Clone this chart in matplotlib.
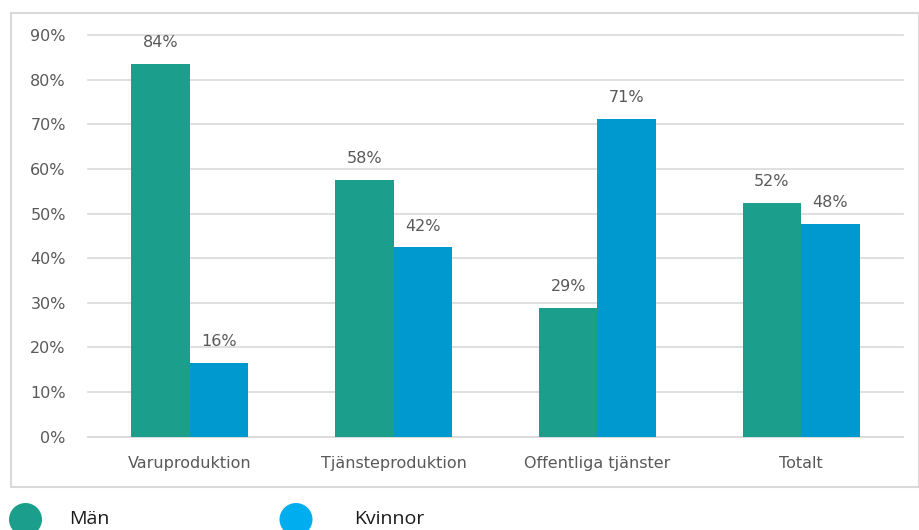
import numpy as np
import matplotlib.pyplot as plt
from matplotlib.patches import Rectangle, Ellipse

categories = ['Varuproduktion', 'Tjänsteproduktion', 'Offentliga tjänster', 'Totalt']
man = [83.5, 57.6, 28.8, 52.4]
kvinnor = [16.5, 42.4, 71.2, 47.6]
labels_man = ['84%', '58%', '29%', '52%']
labels_kvinnor = ['16%', '42%', '71%', '48%']
series_names = ['Män', 'Kvinnor']

c_man = '#1c9e8c'
c_kv = '#0099cf'
c_kv_legend = '#00aeef'
txt = '#595959'
grid = '#d9d9d9'

plt.rcParams['font.family'] = ['DejaVu Sans']

W, H = 920, 530
fig = plt.figure(figsize=(W / 100, H / 100), dpi=100)

# outer frame around the plot area
fig.patches.append(Rectangle((11 / W, 1 - 487 / H), (919 - 11) / W, (487 - 13) / H,
                             transform=fig.transFigure, fill=False,
                             edgecolor=grid, lw=1.5))

ax = fig.add_axes([88 / W, 1 - 436.7 / H, (903 - 88) / W, (436.7 - 35) / H])
x = np.arange(len(categories))
w = 0.287
b1 = ax.bar(x - w / 2, man, w, color=c_man, zorder=3)
b2 = ax.bar(x + w / 2, kvinnor, w, color=c_kv, zorder=3)

for bars, labs in ((b1, labels_man), (b2, labels_kvinnor)):
    for bar, lab in zip(bars, labs):
        ax.annotate(lab, (bar.get_x() + bar.get_width() / 2, bar.get_height()),
                    xytext=(0, 10), textcoords='offset points',
                    ha='center', va='bottom', fontsize=11.5, color=txt)

ax.set_xlim(-0.5, len(categories) - 0.5)
ax.set_ylim(0, 90)
ax.set_yticks(np.arange(0, 91, 10))
ax.set_yticklabels([f'{v}%' for v in range(0, 91, 10)])
ax.set_xticks(x)
ax.set_xticklabels(categories)
ax.tick_params(axis='y', length=0, pad=16, labelsize=11.5, labelcolor=txt)
ax.tick_params(axis='x', length=0, pad=14, labelsize=11.5, labelcolor=txt)
ax.grid(axis='y', color=grid, lw=1.2, zorder=0)
for gl in ax.get_ygridlines():
    gl.set_clip_on(False)
for s in ('top', 'right', 'left'):
    ax.spines[s].set_visible(False)
ax.spines['bottom'].set_color(grid)
ax.spines['bottom'].set_linewidth(1.2)

# legend below the frame
legend_items = [(25.5, 69, c_man, series_names[0]), (296, 354, c_kv_legend, series_names[1])]
for cx, tx, col, name in legend_items:
    fig.patches.append(Ellipse((cx / W, 1 - 519.5 / H), 33 / W, 33 / H,
                               transform=fig.transFigure,
                               facecolor=col, edgecolor='none'))
    fig.text(tx / W, 1 - 519.5 / H, name, ha='left', va='center',
             fontsize=14, color='#1a1a1a', family='Open Sans', fontweight='medium')

fig.savefig('out.png', dpi=100)
